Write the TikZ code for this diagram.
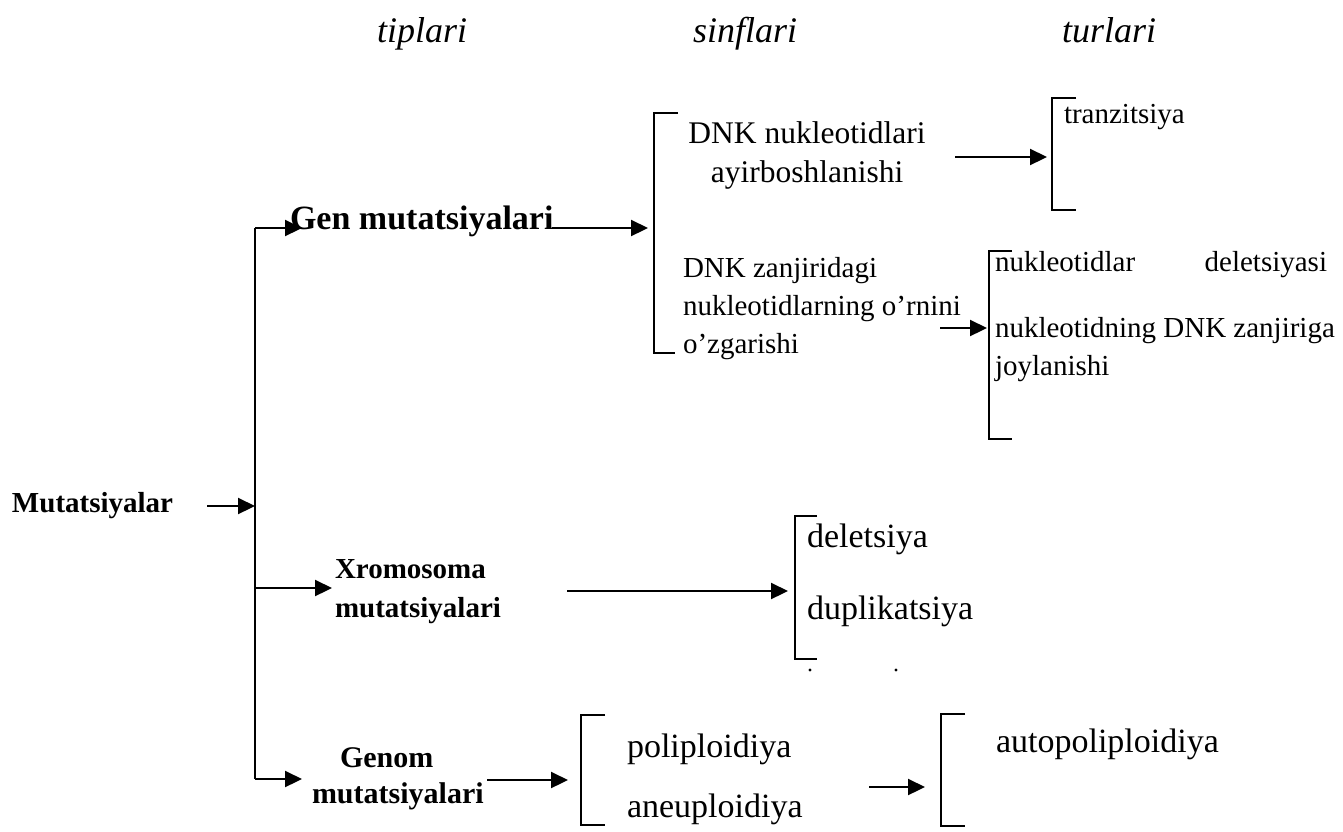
\documentclass[tikz,border=0pt]{standalone}
\usepackage{fontspec}
\setmainfont{Liberation Serif}
\usetikzlibrary{arrows.meta}
\newcommand{\fsz}[1]{\fontsize{#1}{#1}\selectfont}
\tikzset{
  conn/.style={line width=2.2pt, -{Triangle[length=17pt,width=16pt]}},
  brk/.style={line width=2pt},
  lbl/.style={anchor=base west, inner sep=0pt, outer sep=0pt},
  hdr/.style={lbl, font=\fsz{36}\itshape},
  bnode/.style={lbl, font=\fsz{29}\bfseries},
  tnode/.style={lbl, font=\fsz{29}},
  bignode/.style={lbl, font=\fsz{34}},
}
\begin{document}
\begin{tikzpicture}[x=1pt,y=-1pt]
\useasboundingbox (0,0) rectangle (1343,831);

% headers
\node[hdr] (h1) at (377,42) {tiplari};
\node[hdr] (h2) at (693,42) {sinflari};
\node[hdr] (h3) at (1062,42) {turlari};

% root
\node[bnode] (mut) at (12,512) {Mutatsiyalar};

% level 1
\node[lbl, font=\fsz{34}\bfseries] (gen) at (290,229) {Gen mutatsiyalari};
\node[bnode] (xr1) at (335,578) {Xromosoma};
\node[bnode] (xr2) at (335,617) {mutatsiyalari};
\node[lbl, font=\fsz{30}\bfseries] (gm1) at (340,767) {Genom};
\node[lbl, font=\fsz{30}\bfseries] (gm2) at (312,803) {mutatsiyalari};

% sinflari (gen)
\node[lbl, font=\fsz{31.5}, anchor=base] (dn1) at (807,143) {DNK nukleotidlari};
\node[lbl, font=\fsz{31.5}, anchor=base] (dn2) at (807,182) {ayirboshlanishi};
\node[tnode] (dz1) at (683,277) {DNK zanjiridagi};
\node[tnode] (dz2) at (683,315) {nukleotidlarning o’rnini};
\node[tnode] (dz3) at (683,353) {o’zgarishi};

% turlari (gen)
\node[tnode] (tr) at (1064,123) {tranzitsiya};
\node[tnode, text width=332pt] (nd1) at (995,271) {nukleotidlar\hfill deletsiyasi};
\node[tnode] (nd2) at (995,337) {nukleotidning DNK zanjiriga};
\node[tnode] (nd3) at (995,375) {joylanishi};

% xromosoma
\node[bignode] (del) at (807,547) {deletsiya};
\node[bignode] (dup) at (807,619) {duplikatsiya};

% genom
\node[bignode] (pol) at (627,757) {poliploidiya};
\node[bignode] (ane) at (627,817) {aneuploidiya};
\node[bignode] (aut) at (996,752) {autopoliploidiya};

% coordinates
\coordinate (trT) at (255,228);
\coordinate (trM) at (255,506);
\coordinate (trX) at (255,588);
\coordinate (trB) at (255,779);
\coordinate (mutE) at (207,506);
\coordinate (genTip) at (302,228);
\coordinate (xrTip) at (332,588);
\coordinate (gmTip) at (302,779);

\coordinate (genE) at (552,228);
\coordinate (b1in) at (648,228);
\coordinate (b1a) at (678,113);
\coordinate (b1b) at (654,113);
\coordinate (b1c) at (654,353);
\coordinate (b1d) at (675,353);

\coordinate (dnE) at (955,157);
\coordinate (b2in) at (1047,157);
\coordinate (b2a) at (1076,98);
\coordinate (b2b) at (1052,98);
\coordinate (b2c) at (1052,210);
\coordinate (b2d) at (1076,210);

\coordinate (dzE) at (940,328);
\coordinate (b3in) at (987,328);
\coordinate (b3a) at (1012,251);
\coordinate (b3b) at (989,251);
\coordinate (b3c) at (989,439);
\coordinate (b3d) at (1012,439);

\coordinate (xrE) at (567,591);
\coordinate (b4in) at (788,591);
\coordinate (b4a) at (817,516);
\coordinate (b4b) at (795,516);
\coordinate (b4c) at (795,659);
\coordinate (b4d) at (817,659);

\coordinate (gmE) at (487,780);
\coordinate (b5in) at (568,780);
\coordinate (b5a) at (605,715);
\coordinate (b5b) at (581,715);
\coordinate (b5c) at (581,825);
\coordinate (b5d) at (605,825);

\coordinate (plE) at (869,787);
\coordinate (b6in) at (925,787);
\coordinate (b6a) at (965,714);
\coordinate (b6b) at (941,714);
\coordinate (b6c) at (941,826);
\coordinate (b6d) at (965,826);

% trunk
\draw[brk] (trT) -- (trB);
\draw[conn] (mutE) -- (trM);
\draw[conn] (trT) -- (genTip);
\draw[conn] (trX) -- (xrTip);
\draw[conn] (trB) -- (gmTip);

% connectors and brackets
\draw[conn] (genE) -- (b1in);
\draw[brk] (b1a) -- (b1b) -- (b1c) -- (b1d);
\draw[conn] (dnE) -- (b2in);
\draw[brk] (b2a) -- (b2b) -- (b2c) -- (b2d);
\draw[conn] (dzE) -- (b3in);
\draw[brk] (b3a) -- (b3b) -- (b3c) -- (b3d);
\draw[conn] (xrE) -- (b4in);
\draw[brk] (b4a) -- (b4b) -- (b4c) -- (b4d);
\draw[conn] (gmE) -- (b5in);
\draw[brk] (b5a) -- (b5b) -- (b5c) -- (b5d);
\draw[conn] (plE) -- (b6in);
\draw[brk] (b6a) -- (b6b) -- (b6c) -- (b6d);

% cut-off dots
\fill (810,670) circle (1.6pt);
\fill (896,670) circle (1.6pt);
\end{tikzpicture}
\end{document}
